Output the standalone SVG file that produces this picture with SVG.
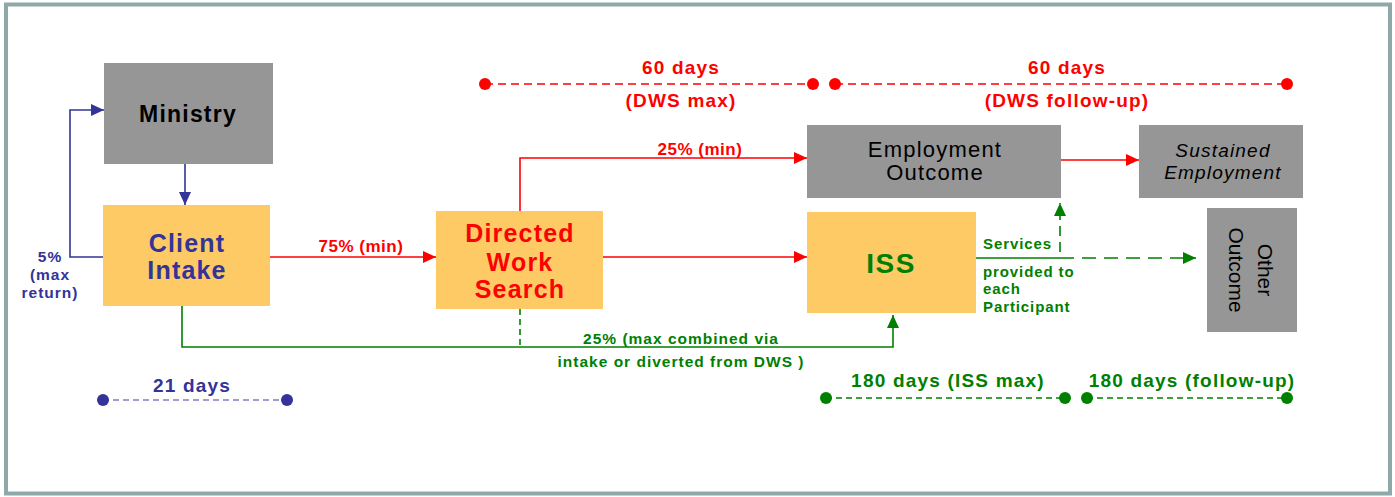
<svg xmlns="http://www.w3.org/2000/svg" width="1395" height="497" viewBox="0 0 1395 497">
<style>
text{font-family:"Liberation Sans",Arial,sans-serif;font-weight:bold;text-anchor:middle}
.node{stroke:none}
.gray{fill:#969696}
.orange{fill:#fdca66}
.navy{fill:#333399}
.red{fill:#ff0000}
.green{fill:#008000}
.blk{fill:#000000}
.reg{font-weight:normal}
.lbl{font-size:17px;letter-spacing:0.5px}
.tl{font-size:19px;letter-spacing:1.2px}
.sm{font-size:15.5px;letter-spacing:1px}
.svc{font-size:15px;letter-spacing:0.9px;text-anchor:start}
.big{font-size:25px;letter-spacing:1.2px}
.ln{fill:none;stroke-width:1.6}
.lr{stroke:#ff0000}
.lb{stroke:#333399}
.lg{stroke:#008000}
</style>
<defs>
<marker id="ar" markerUnits="userSpaceOnUse" markerWidth="14" markerHeight="12" refX="13" refY="6" orient="auto"><path d="M0,0 L13,6 L0,12 z" fill="#ff0000"/></marker>
<marker id="ab" markerUnits="userSpaceOnUse" markerWidth="14" markerHeight="12" refX="13" refY="6" orient="auto"><path d="M0,0 L13,6 L0,12 z" fill="#333399"/></marker>
<marker id="ag" markerUnits="userSpaceOnUse" markerWidth="14" markerHeight="12" refX="13" refY="6" orient="auto"><path d="M0,0 L13,6 L0,12 z" fill="#008000"/></marker>
</defs>
<rect x="0" y="0" width="1395" height="497" fill="#ffffff"/>
<rect x="6" y="4.5" width="1384" height="489" fill="#ffffff" stroke="#8fa9a9" stroke-width="4"/>

<g id="connectors">
<line class="ln lb" x1="185" y1="164" x2="185" y2="205" marker-end="url(#ab)"/>
<polyline class="ln lb" points="103,257 70,257 70,110 104,110" marker-end="url(#ab)"/>
<line class="ln lr" x1="270" y1="257" x2="436" y2="257" marker-end="url(#ar)"/>
<line class="ln lr" x1="603" y1="257" x2="807" y2="257" marker-end="url(#ar)"/>
<polyline class="ln lr" points="520,211 520,158 807,158" marker-end="url(#ar)"/>
<line class="ln lr" x1="1061" y1="160" x2="1139" y2="160" marker-end="url(#ar)"/>
<polyline class="ln lg" points="182,306 182,347 893,347 893,315" marker-end="url(#ag)"/>
<line class="ln lg" x1="520" y1="309" x2="520" y2="347" stroke-dasharray="6 4"/>
<line class="ln lg" x1="976" y1="258" x2="1060" y2="258"/>
<line class="ln lg" x1="1060" y1="258" x2="1196" y2="258" stroke-dasharray="14 8" marker-end="url(#ag)"/>
<line class="ln lg" x1="1060" y1="252" x2="1060" y2="203" stroke-dasharray="10 6" marker-end="url(#ag)"/>
</g>

<g id="ministry">
<rect class="node gray" x="104" y="63" width="169" height="101"/>
<text class="blk" x="188" y="122" font-size="23" letter-spacing="1.2">Ministry</text>
</g>
<g id="client-intake">
<rect class="node orange" x="103" y="205" width="167" height="101"/>
<text class="navy big" x="187" y="252">Client</text>
<text class="navy big" x="187" y="279">Intake</text>
</g>
<g id="dws">
<rect class="node orange" x="436" y="211" width="167" height="98"/>
<text class="red big" x="520" y="242">Directed</text>
<text class="red big" x="520" y="271">Work</text>
<text class="red big" x="520" y="298">Search</text>
</g>
<g id="iss">
<rect class="node orange" x="807" y="212" width="169" height="101"/>
<text class="green" x="891" y="273" font-size="28" letter-spacing="1.5">ISS</text>
</g>
<g id="employment-outcome">
<rect class="node gray" x="807" y="125" width="254" height="73"/>
<text class="blk reg" x="935" y="157" font-size="22" letter-spacing="1.2">Employment</text>
<text class="blk reg" x="935" y="180" font-size="22" letter-spacing="1.2">Outcome</text>
</g>
<g id="sustained-employment">
<rect class="node gray" x="1139" y="125" width="164" height="73"/>
<text class="blk reg" x="1223" y="157" font-size="19" letter-spacing="1.2" font-style="italic">Sustained</text>
<text class="blk reg" x="1223" y="179" font-size="19" letter-spacing="1.2" font-style="italic">Employment</text>
</g>
<g id="other-outcome">
<rect class="node gray" x="1207" y="208" width="90" height="124"/>
<g transform="translate(1251,270) rotate(90)">
<text class="blk reg" x="0" y="-7" font-size="21">Other</text>
<text class="blk reg" x="0" y="22" font-size="21">Outcome</text>
</g>
</g>

<g id="labels">
<text class="navy sm" x="50" y="262">5%</text>
<text class="navy sm" x="50" y="280">(max</text>
<text class="navy sm" x="50" y="298">return)</text>
<text class="red lbl" x="361" y="252">75% (min)</text>
<text class="red lbl" x="700" y="155">25% (min)</text>
<text class="green sm" x="681" y="344">25% (max combined via</text>
<text class="green sm" x="681" y="367">intake or diverted from DWS )</text>
<text class="green svc" x="983" y="249">Services</text>
<text class="green svc" x="983" y="277">provided to</text>
<text class="green svc" x="983" y="294">each</text>
<text class="green svc" x="983" y="312">Participant</text>
</g>

<g id="timelines">
<line x1="485" y1="84" x2="813" y2="84" stroke="#ff0000" stroke-width="1.5" stroke-dasharray="8 5"/>
<line x1="835" y1="84" x2="1287" y2="84" stroke="#ff0000" stroke-width="1.5" stroke-dasharray="8 5"/>
<circle cx="485" cy="84" r="6" fill="#ff0000"/>
<circle cx="813" cy="84" r="6" fill="#ff0000"/>
<circle cx="835" cy="84" r="6" fill="#ff0000"/>
<circle cx="1287" cy="84" r="6" fill="#ff0000"/>
<text class="red tl" x="681" y="74">60 days</text>
<text class="red tl" x="681" y="107">(DWS max)</text>
<text class="red tl" x="1067" y="74">60 days</text>
<text class="red tl" x="1067" y="107">(DWS follow-up)</text>

<line x1="103" y1="400" x2="287" y2="400" stroke="#7f7fc8" stroke-width="1.5" stroke-dasharray="6 4"/>
<circle cx="103" cy="400" r="6" fill="#333399"/>
<circle cx="287" cy="400" r="6" fill="#333399"/>
<text class="navy tl" x="192" y="392">21 days</text>

<line x1="826" y1="398" x2="1065" y2="398" stroke="#008000" stroke-width="1.5" stroke-dasharray="6 4"/>
<line x1="1087" y1="398" x2="1287" y2="398" stroke="#008000" stroke-width="1.5" stroke-dasharray="6 4"/>
<circle cx="826" cy="398" r="6" fill="#008000"/>
<circle cx="1065" cy="398" r="6" fill="#008000"/>
<circle cx="1087" cy="398" r="6" fill="#008000"/>
<circle cx="1287" cy="398" r="6" fill="#008000"/>
<text class="green tl" x="948" y="387">180 days (ISS max)</text>
<text class="green tl" x="1192" y="387">180 days (follow-up)</text>
</g>
</svg>
